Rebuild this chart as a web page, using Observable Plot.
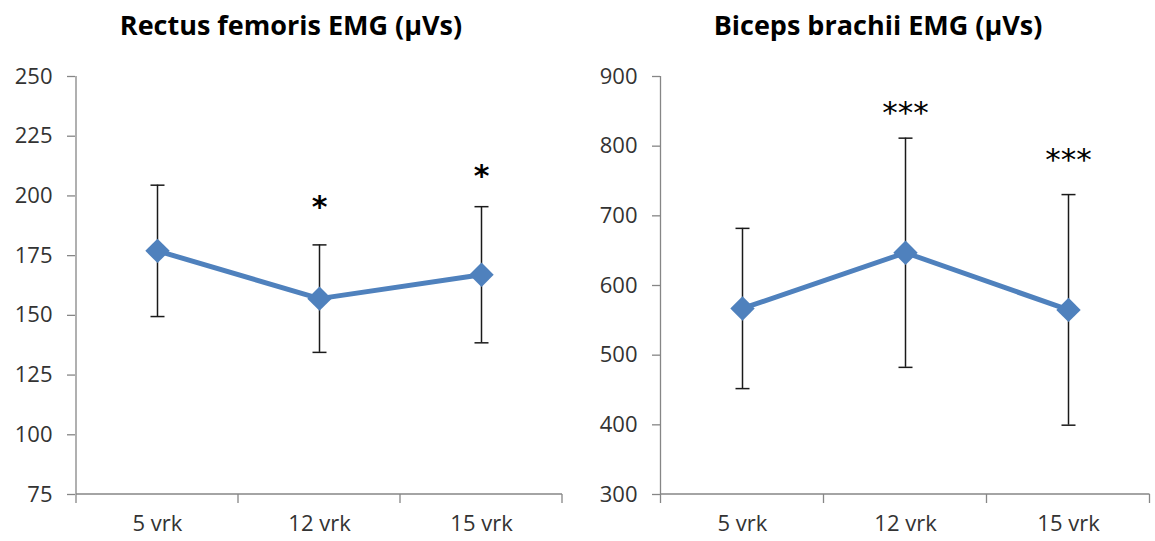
<!DOCTYPE html>
<html><head><meta charset="utf-8">
<script src="https://cdn.jsdelivr.net/npm/d3@7"></script>
<script src="https://cdn.jsdelivr.net/npm/@observablehq/plot@0.6"></script>
<style>
html,body{margin:0;padding:0;background:#fff;}
#root{position:relative;width:1155px;height:541px;overflow:hidden;font-family:"Open Sans",sans-serif;}
.title{position:absolute;top:6px;width:600px;text-align:center;font-weight:700;font-size:27px;color:#000;white-space:nowrap;line-height:normal;}
.panel{position:absolute;top:50px;}
</style></head><body><div id="root"></div>
<script>
// ---- data ----
const categories = ["5 vrk", "12 vrk", "15 vrk"];

const rfTitle = "Rectus femoris EMG (µVs)";
const rfMean = [177, 157, 167];
const rfSD = [27.5, 22.5, 28.5];
const rfSig = ["", "*", "*"];
const rfSigAt = [null, 195, 208];
const rfTicks = [75, 100, 125, 150, 175, 200, 225, 250];

const bbTitle = "Biceps brachii  EMG (µVs)";
const bbMean = [567, 647, 565];
const bbSD = [115, 164.5, 165.5];
const bbSig = ["", "***", "***"];
const bbSigAt = [null, 847, 780];
const bbTicks = [300, 400, 500, 600, 700, 800, 900];

// ---- drawing ----
const BLUE = "#4F81BD";
const AXIS = "#868686";
const capSymbol = {draw(ctx) { ctx.moveTo(-7, 0); ctx.lineTo(7, 0); }};

function axisFrame(ticks) {
  return (index, scales) => {
    const x = scales.x, y = scales.y;
    const step = x.step();
    const xs = categories.map(c => x(c) - step / 2);
    xs.push(x(categories[categories.length - 1]) + step / 2);
    const yb = y(ticks[0]), yt = y(ticks[ticks.length - 1]);
    const g = d3.create("svg:g").attr("stroke", AXIS).attr("stroke-width", 1.3).attr("fill", "none");
    g.append("line").attr("x1", xs[0]).attr("x2", xs[0]).attr("y1", yt).attr("y2", yb);
    g.append("line").attr("x1", xs[0]).attr("x2", xs[xs.length - 1]).attr("y1", yb).attr("y2", yb);
    g.selectAll("line.t").data(xs).join("line").attr("class", "t")
      .attr("x1", d => d).attr("x2", d => d).attr("y1", yb).attr("y2", yb + 9);
    return g.node();
  };
}

function panel({title, titleCenter, left, width, ml, mr, mean, sd, sig, sigAt, ticks, starSize, starWeight}) {
  const data = categories.map((c, i) => ({cat: c, mean: mean[i], lo: mean[i] - sd[i], hi: mean[i] + sd[i], sig: sig[i], sigAt: sigAt[i]}));
  const stars = data.filter(d => d.sig);
  const plot = Plot.plot({
    width, height: 491,
    marginLeft: ml, marginRight: mr, marginTop: 26, marginBottom: 47,
    style: {fontFamily: "Open Sans", background: "transparent", overflow: "visible"},
    x: {type: "point", domain: categories, padding: 0.5},
    y: {domain: [ticks[0], ticks[ticks.length - 1]]},
    marks: [
      Plot.axisY(ticks, {tickSize: 8, tickPadding: 15, fontSize: 22, stroke: AXIS, fill: "#333", label: null, strokeWidth: 1.3}),
      Plot.axisX({tickSize: 0, tickPadding: 21, fontSize: 22, fill: "#333", label: null}),
      axisFrame(ticks),
      Plot.ruleX(data, {x: "cat", y1: "lo", y2: "hi", stroke: "#1a1a1a", strokeWidth: 1.5}),
      Plot.dot(data, {x: "cat", y: "lo", symbol: capSymbol, stroke: "#1a1a1a", strokeWidth: 1.5, fill: "none"}),
      Plot.dot(data, {x: "cat", y: "hi", symbol: capSymbol, stroke: "#1a1a1a", strokeWidth: 1.5, fill: "none"}),
      Plot.line(data, {x: "cat", y: "mean", stroke: BLUE, strokeWidth: 5}),
      Plot.dot(data, {x: "cat", y: "mean", symbol: "diamond2", r: 11, fill: BLUE, stroke: "none"}),
      Plot.text(stars, {x: "cat", y: "sigAt", text: "sig", fontSize: starSize, fontWeight: starWeight, fontFamily: "DejaVu Sans", fill: "#000"})
    ]
  });
  const wrap = document.createElement("div");
  wrap.className = "panel";
  wrap.style.left = left + "px";
  wrap.appendChild(plot);
  const t = document.createElement("div");
  t.className = "title";
  t.style.left = (titleCenter - 300) + "px";
  t.textContent = title;
  const root = document.getElementById("root");
  root.appendChild(t);
  root.appendChild(wrap);
}

panel({title: rfTitle, titleCenter: 291, left: 0, width: 580, ml: 75, mr: 18,
  mean: rfMean, sd: rfSD, sig: rfSig, sigAt: rfSigAt, ticks: rfTicks, starSize: 30, starWeight: "bold"});
panel({title: bbTitle, titleCenter: 878, left: 580, width: 575, ml: 80, mr: 5,
  mean: bbMean, sd: bbSD, sig: bbSig, sigAt: bbSigAt, ticks: bbTicks, starSize: 31, starWeight: "normal"});
</script>
</body></html>
